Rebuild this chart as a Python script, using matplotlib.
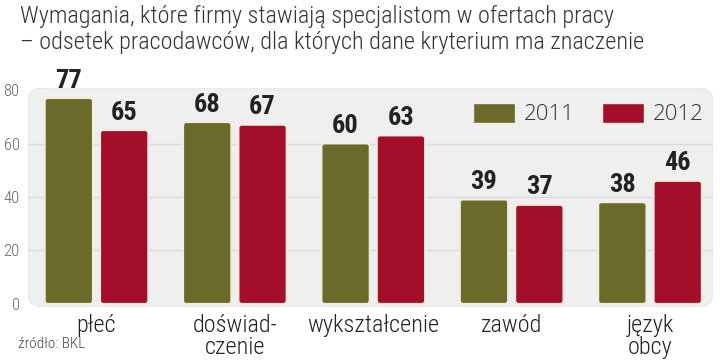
import matplotlib
matplotlib.use("Agg")
import matplotlib.pyplot as plt
from matplotlib.patches import FancyBboxPatch, Patch
import numpy as np

categories = ["płeć", "doświad-\nczenie", "wykształcenie", "zawód", "język\nobcy"]
values_2011 = [77, 68, 60, 39, 38]
values_2012 = [65, 67, 63, 37, 46]
series_names = ["2011", "2012"]
yticks = [0, 20, 40, 60, 80]

title = ("Wymagania, które firmy stawiają specjalistom w ofertach pracy\n"
         "– odsetek pracodawców, dla których dane kryterium ma znaczenie")
source = "źródło: BKL"

C2011 = "#6b6a2b"
C2012 = "#a30f2b"
COND = ["Roboto Condensed", "DejaVu Sans"]

fig = plt.figure(figsize=(7.2, 3.6), dpi=100)
ax = fig.add_axes([28/720, 1-307/360, 685/720, 219/360])
ax.set_xlim(-0.495, 4.455)
ax.set_ylim(-1.2, 80.8)
ax.patch.set_visible(False)
for s in ax.spines.values():
    s.set_visible(False)

# rounded panel background
panel = FancyBboxPatch((0, 0), 1, 1, transform=ax.transAxes,
                       boxstyle="round,pad=0,rounding_size=0.022",
                       mutation_aspect=685/219, facecolor="#efefef",
                       edgecolor="#e8e8e8", linewidth=1, zorder=0)
ax.add_patch(panel)

for yv in yticks[1:-1]:
    ax.axhline(yv, color="#dadada", linewidth=1, zorder=1)

x = np.arange(len(categories))
w = 0.347
off = 0.2
bars1 = ax.bar(x - off, values_2011, w, color=C2011)
bars2 = ax.bar(x + off, values_2012, w, color=C2012)

asp = (138.4) / (219/82)
for bars, col in ((bars1, C2011), (bars2, C2012)):
    for r in bars:
        r.set_visible(False)
        fb = FancyBboxPatch((r.get_x(), r.get_y()), r.get_width(), r.get_height(),
                            boxstyle="round,pad=0,rounding_size=0.022",
                            mutation_aspect=asp, facecolor=col,
                            edgecolor="#f3eedc", linewidth=1.3, zorder=3)
        ax.add_patch(fb)
    for r in bars:
        ax.annotate(f"{int(r.get_height())}",
                    (r.get_x() + r.get_width()/2, r.get_height()),
                    xytext=(0, 4), textcoords="offset points",
                    ha="center", va="bottom", fontsize=19, fontweight="bold",
                    family=COND, color="#222222", zorder=5)

ax.set_yticks(yticks)
ax.set_yticklabels([str(v) for v in yticks])
ax.set_xticks(x)
ax.set_xticklabels(categories, family=COND, fontsize=17.5, color="#222222",
                   fontweight="light", linespacing=0.95)
ax.tick_params(axis="x", length=0, pad=5)
ax.tick_params(axis="y", length=0, pad=6, labelsize=12, labelcolor="#666666")
for t in ax.get_yticklabels():
    t.set_family(COND)
    t.set_fontweight("light")

handles = [Patch(facecolor=C2011, edgecolor="#f3eedc"),
           Patch(facecolor=C2012, edgecolor="#f3eedc")]
fig.legend(handles, series_names, loc="center left",
           bbox_to_anchor=(473/720, 1-114/360), ncol=2, frameon=False,
           handlelength=1.9, handleheight=1.05,
           handletextpad=0.4, columnspacing=1.2, borderpad=0, borderaxespad=0,
           prop={"family": ["Open Sans", "DejaVu Sans"], "size": 16, "weight": "light"},
           labelcolor="#333333")

fig.text(20/720, 1-5/360, title, ha="left", va="top", fontsize=17.5,
         family=COND, fontweight="light", color="#333333", linespacing=1.15)
fig.text(18/720, 1-344/360, source, ha="left", va="center", fontsize=11,
         family=COND, fontweight="light", color="#444444")

fig.savefig("out.png", dpi=100)
